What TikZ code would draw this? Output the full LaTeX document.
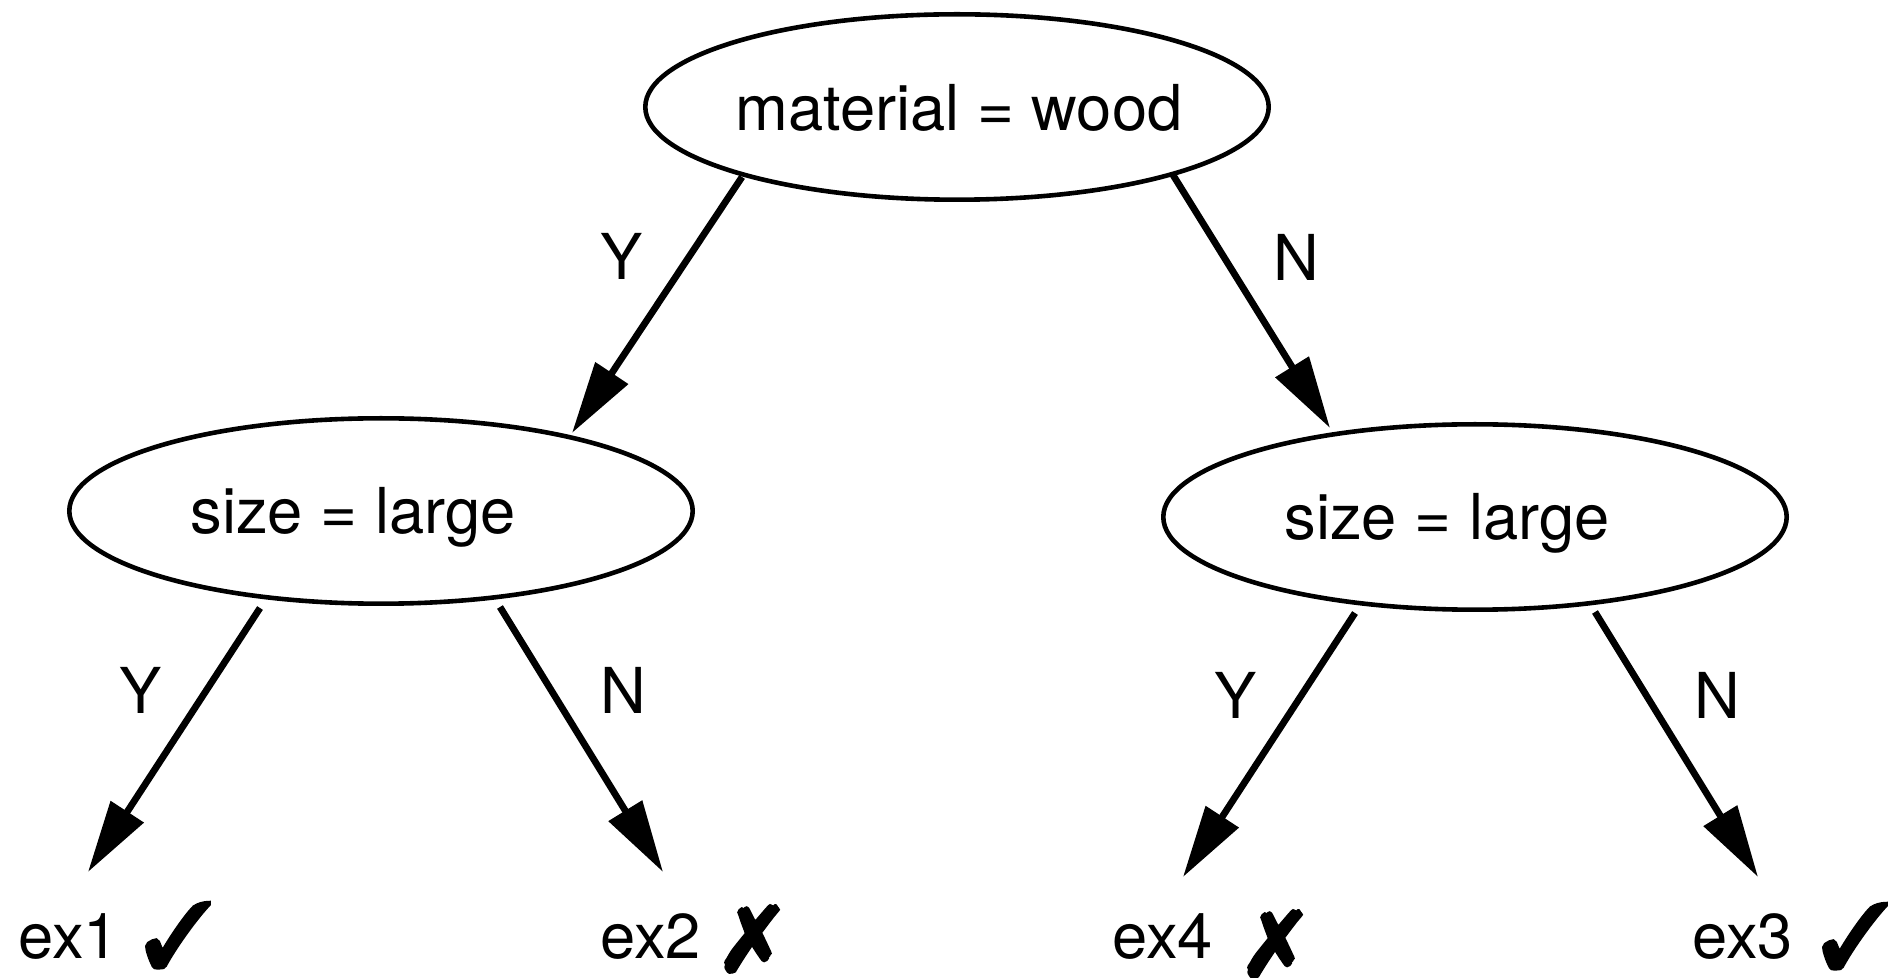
\documentclass[tikz,border=0pt]{standalone}
\usepackage{fontspec}
\setmainfont{TeX Gyre Heros}
\usepackage{pifont}
\usetikzlibrary{arrows.meta,shapes.geometric}
\newcommand\fatding[1]{%
  \special{pdf:literal direct 2 Tr 2 w}\ding{#1}\special{pdf:literal direct 0 Tr}}
\begin{document}
\begin{tikzpicture}[x=0.5pt,y=-0.5pt,
  cond/.style={ellipse, draw, line width=2.3pt, minimum width=311.7pt, minimum height=92.7pt, inner sep=0pt, outer sep=0pt},
  txt/.style={inner sep=0pt, font=\fontsize{31.65pt}{38pt}\selectfont},
  tick/.style={inner sep=0pt, font=\fontsize{45pt}{50pt}\selectfont},
  edge/.style={line width=3.4pt, -{Triangle[length=36pt,width=19pt]}}]
\useasboundingbox (0,0) rectangle (1903,978);
% condition nodes
\node[cond] (T) at (957,107) {};
\node[cond] (L) at (381,511) {};
\node[cond] (R) at (1475,517) {};
\node[txt, anchor=base] (Ttxt) at (959,131) {material = wood};
\node[txt, anchor=base] (Ltxt) at (353,534) {size = large};
\node[txt, anchor=base] (Rtxt) at (1447,540) {size = large};
% leaves
\node[txt, anchor=base west] (ex1) at (18,958) {ex1};
\node[txt, anchor=base west] (ex2) at (600,958) {ex2};
\node[txt, anchor=base west] (ex4) at (1112,958) {ex4};
\node[txt, anchor=base west] (ex3) at (1692,958) {ex3};
\node[tick] (m1) at (178,935) {\fatding{51}};
\node[tick] (m2) at (752,939) {\fatding{55}};
\node[tick] (m4) at (1275,944) {\fatding{55}};
\node[tick] (m3) at (1855,936) {\fatding{51}};
% arrow tips at leaves
\coordinate (t1) at (88,872);
\coordinate (t2) at (663,872);
\coordinate (t4) at (1183,877);
\coordinate (t3) at (1758,877);
% connectors
\draw[edge] ([shift={(-215,70)}]T.center) -- ([shift={(191,-78)}]L.center);
\draw[edge] ([shift={(216,68)}]T.center) -- ([shift={(-145,-89)}]R.center);
\draw[edge] ([shift={(-121,97)}]L.center) -- (t1);
\draw[edge] ([shift={(119,96)}]L.center) -- (t2);
\draw[edge] ([shift={(-120,96)}]R.center) -- (t4);
\draw[edge] ([shift={(120,95)}]R.center) -- (t3);
% edge labels
\node[txt] (y1) at (622,256) {Y};
\node[txt] (n1) at (1296,257) {N};
\node[txt] (y2) at (141,690) {Y};
\node[txt] (n2) at (623,690) {N};
\node[txt] (y3) at (1236,695) {Y};
\node[txt] (n3) at (1717,695) {N};
\end{tikzpicture}
\end{document}
